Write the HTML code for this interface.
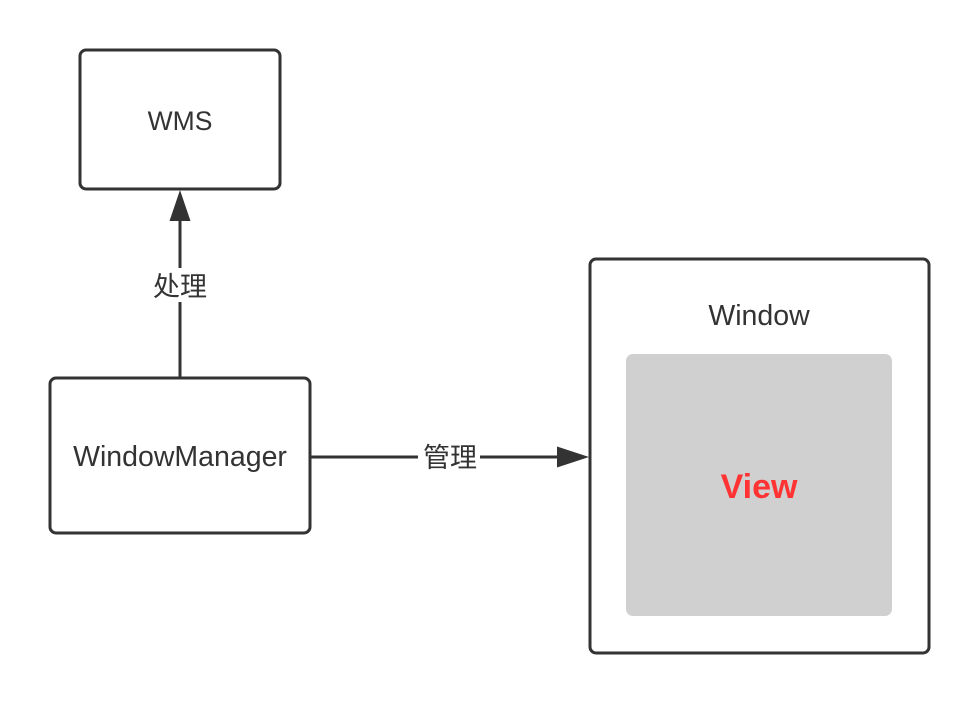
<!DOCTYPE html>
<html><head><meta charset="utf-8"><style>html,body{margin:0;padding:0;background:#fff;}svg{display:block}</style></head>
<body>
<svg width="978" height="703" viewBox="0 0 978 703" xmlns="http://www.w3.org/2000/svg" font-family="'Liberation Sans','Noto Sans CJK SC',sans-serif">
<rect x="80" y="50" width="200" height="139" rx="6" fill="#fff" stroke="#333" stroke-width="3"/>
<text x="180" y="130" font-size="26.5" text-anchor="middle" fill="#333">WMS</text>
<line x1="180" y1="377" x2="180" y2="218" stroke="#333" stroke-width="3"/>
<polygon points="180,190 169.5,221 190.5,221" fill="#333"/>
<rect x="148" y="268" width="64" height="34" fill="#fff"/>
<text x="180" y="296" font-size="27" text-anchor="middle" fill="#333">处理</text>
<rect x="50" y="378" width="260" height="155" rx="6" fill="#fff" stroke="#333" stroke-width="3"/>
<text x="180" y="466" font-size="28.5" text-anchor="middle" fill="#333">WindowManager</text>
<line x1="310" y1="457" x2="562" y2="457" stroke="#333" stroke-width="3"/>
<polygon points="589,457 557,446.5 557,467.5" fill="#333"/>
<rect x="418" y="440" width="62" height="34" fill="#fff"/>
<text x="450" y="467" font-size="27" text-anchor="middle" fill="#333">管理</text>
<rect x="590" y="259" width="339" height="394" rx="6" fill="#fff" stroke="#333" stroke-width="3"/>
<text x="759" y="325" font-size="28.5" text-anchor="middle" fill="#333">Window</text>
<rect x="626" y="354" width="266" height="262" rx="7" fill="#d0d0d0"/>
<text x="759" y="498" font-size="34" font-weight="bold" text-anchor="middle" fill="#ff3333">View</text>
</svg>
</body></html>
